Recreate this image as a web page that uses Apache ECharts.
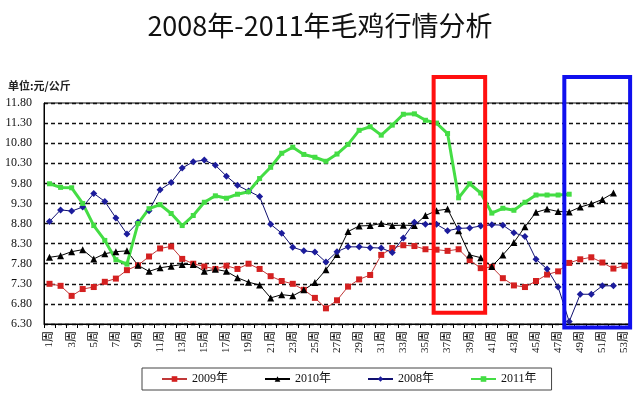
<!DOCTYPE html>
<html>
<head>
<meta charset="utf-8">
<script src="https://cdn.jsdelivr.net/npm/echarts@6/dist/echarts.min.js"></script>
<style>
  html, body { margin: 0; padding: 0; background: #fff; }
  #chart { width: 640px; height: 399px; }
</style>
</head>
<body>
<div id="chart"></div>
<script>
// 周次
const weeks = ['1周','2周','3周','4周','5周','6周','7周','8周','9周','10周',
  '11周','12周','13周','14周','15周','16周','17周','18周','19周','20周',
  '21周','22周','23周','24周','25周','26周','27周','28周','29周','30周',
  '31周','32周','33周','34周','35周','36周','37周','38周','39周','40周',
  '41周','42周','43周','44周','45周','46周','47周','48周','49周','50周',
  '51周','52周','53周']

// 毛鸡价格 元/公斤
const price2009 = [7.30, 7.25, 7.00, 7.17, 7.22, 7.35, 7.43, 7.64, 7.76, 7.98,
  8.18, 8.23, 7.92, 7.80, 7.73, 7.67, 7.75, 7.67, 7.80, 7.67,
  7.49, 7.37, 7.30, 7.15, 6.95, 6.69, 6.89, 7.23, 7.41, 7.52,
  8.02, 8.19, 8.26, 8.24, 8.16, 8.15, 8.12, 8.16, 7.89, 7.69,
  7.72, 7.44, 7.26, 7.22, 7.37, 7.53, 7.61, 7.82, 7.91, 7.96,
  7.83, 7.68, 7.75]
const price2010 = [7.96, 8.00, 8.10, 8.15, 7.92, 8.05, 8.10, 8.12, 7.76, 7.61,
  7.70, 7.74, 7.78, 7.78, 7.61, 7.66, 7.61, 7.45, 7.34, 7.27,
  6.95, 7.03, 7.00, 7.15, 7.33, 7.65, 8.03, 8.60, 8.74, 8.75,
  8.80, 8.75, 8.76, 8.75, 9.00, 9.12, 9.16, 8.62, 8.02, 7.95,
  7.73, 8.02, 8.33, 8.72, 9.08, 9.16, 9.10, 9.09, 9.21, 9.29,
  9.40, 9.56, null]
const price2008 = [8.85, 9.14, 9.11, 9.21, 9.55, 9.35, 8.94, 8.54, 8.83, 9.12,
  9.64, 9.82, 10.18, 10.34, 10.38, 10.25, 9.98, 9.75, 9.61, 9.47,
  8.78, 8.56, 8.21, 8.12, 8.09, 7.84, 8.10, 8.22, 8.22, 8.20,
  8.19, 8.08, 8.44, 8.83, 8.78, 8.78, 8.62, 8.68, 8.69, 8.74,
  8.77, 8.76, 8.57, 8.48, 7.91, 7.67, 7.22, 6.36, 7.04, 7.04,
  7.25, 7.25, null]
const price2011 = [9.79, 9.70, 9.69, 9.30, 8.75, 8.38, 7.90, 7.79, 8.80, 9.17,
  9.27, 9.05, 8.75, 9.00, 9.33, 9.49, 9.43, 9.53, 9.59, 9.92,
  10.20, 10.55, 10.70, 10.52, 10.45, 10.35, 10.53, 10.77, 11.12, 11.21,
  11.00, 11.25, 11.52, 11.53, 11.37, 11.30, 11.04, 9.44, 9.79, 9.56,
  9.06, 9.18, 9.13, 9.33, 9.51, 9.51, 9.51, 9.53, null, null,
  null, null, null]

// y轴刻度
const yMin = 6.3
const yMax = 11.8
const yStep = 0.5

const serif = '"Liberation Serif", "DejaVu Serif", "Noto Sans CJK SC", serif'
const chart = echarts.init(document.getElementById('chart'))

const lineSeries = (name, data, color, lineColor, symbol, size, width) => ({
  name,
  type: 'line',
  data,
  symbol,
  symbolSize: size,
  showAllSymbol: true,
  connectNulls: false,
  animation: false,
  itemStyle: { color, borderWidth: 0 },
  lineStyle: { color: lineColor, width }
})

chart.setOption({
  backgroundColor: '#fff',
  title: [
    {
      text: '2008年-2011年毛鸡行情分析',
      left: 'center',
      top: 7,
      textStyle: { fontFamily: '"Noto Sans CJK SC", serif', fontWeight: 'normal', fontSize: 27, color: '#111' }
    },
    {
      text: '单位:元/公斤',
      left: 3,
      top: 75,
      textStyle: { fontFamily: '"Noto Sans CJK SC", sans-serif', fontWeight: 'bold', fontSize: 11, color: '#222' }
    }
  ],
  legend: {
    left: 142,
    top: 368,
    padding: [5, 15, 5, 19],
    itemGap: 36,
    itemWidth: 25,
    itemHeight: 7,
    borderColor: '#444',
    borderWidth: 1,
    textStyle: { fontFamily: serif, fontSize: 12, color: '#111' },
    data: ['2009年', '2010年', '2008年', '2011年']
  },
  grid: {
    left: 44,
    right: 10,
    top: 103,
    bottom: 75,
    show: true,
    borderColor: '#000',
    borderWidth: 1
  },
  xAxis: {
    type: 'category',
    data: weeks,
    boundaryGap: true,
    axisLine: { lineStyle: { color: '#000', width: 1 } },
    axisTick: { show: true, interval: 0, length: 4, lineStyle: { color: '#000' } },
    axisLabel: {
      interval: 1,
      rotate: 90,
      margin: 7,
      fontFamily: serif,
      fontSize: 11,
      color: '#111'
    },
    splitLine: { show: false }
  },
  yAxis: {
    type: 'value',
    min: yMin,
    max: yMax,
    interval: yStep,
    axisLine: { show: true, lineStyle: { color: '#000', width: 1 } },
    axisTick: { show: false },
    axisLabel: {
      margin: 12,
      fontFamily: serif,
      fontSize: 12,
      color: '#111',
      formatter: v => v.toFixed(2)
    },
    splitLine: { lineStyle: { color: '#111', type: [4, 3], width: 1.3 } }
  },
  series: [
    lineSeries('2009年', price2009, '#d42020', '#c03838', 'rect', 6, 1),
    lineSeries('2010年', price2010, '#000', '#000', 'triangle', 7, 1),
    lineSeries('2008年', price2008, '#1c1c9c', '#101070', 'diamond', 7, 1),
    lineSeries('2011年', price2011, '#44dd44', '#44dd44', 'rect', 5, 3)
  ]
})

// 标注框：按周次和价格换算位置
const x0 = chart.convertToPixel({ xAxisIndex: 0 }, 0)
const x1 = chart.convertToPixel({ xAxisIndex: 0 }, 1)
const band = x1 - x0
const xAt = wk => x0 + (wk - 1) * band
const yAt = v => chart.convertToPixel({ yAxisIndex: 0 }, v)

const box = (wa, wb, va, vb, color) => ({
  type: 'rect',
  z: 100,
  shape: { x: xAt(wa), y: yAt(vb), width: xAt(wb) - xAt(wa), height: yAt(va) - yAt(vb) },
  style: { fill: 'none', stroke: color, lineWidth: 4 }
})

chart.setOption({
  graphic: [
    box(35.74, 40.40, 6.58, 12.45, '#ff1010'),
    box(47.56, 53.51, 6.21, 12.45, '#1010ee')
  ]
})
</script>
</body>
</html>
